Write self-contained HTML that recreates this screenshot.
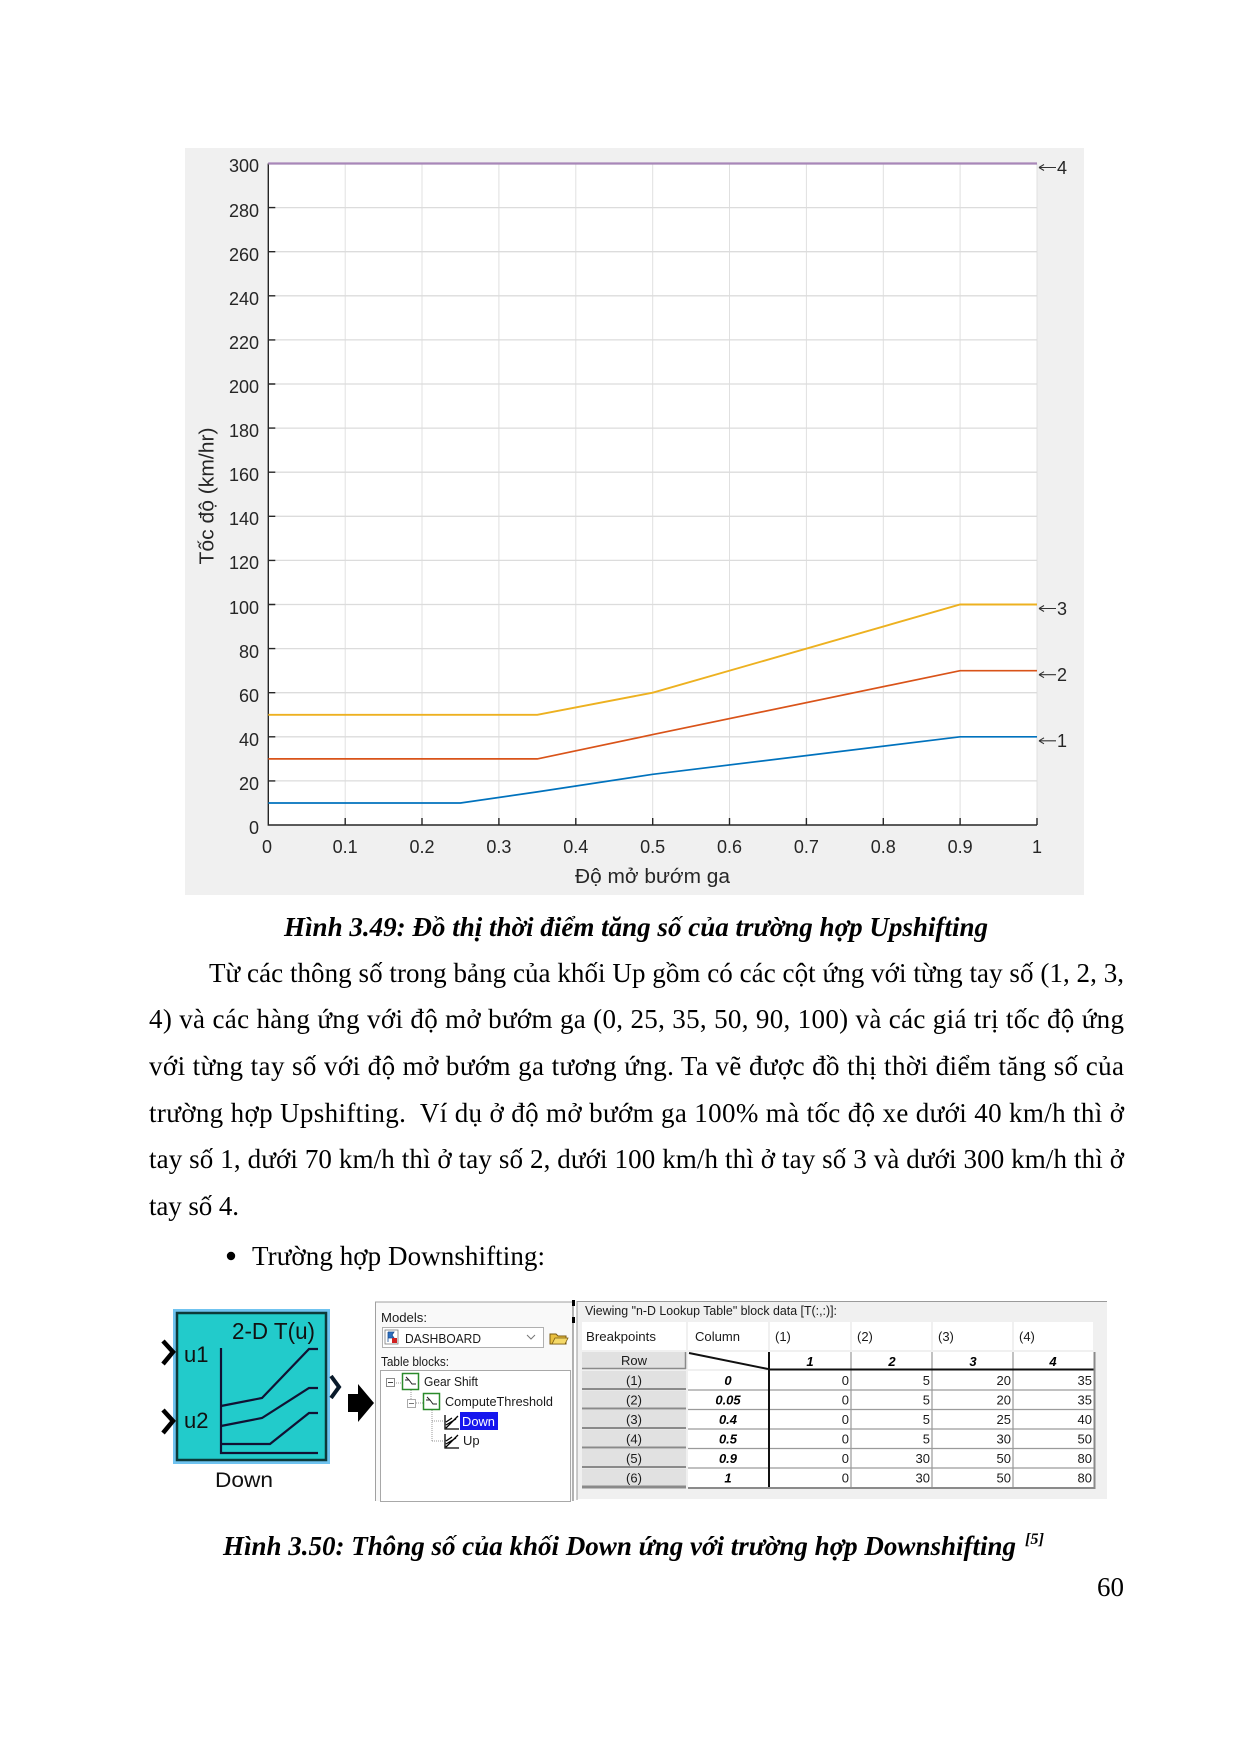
<!DOCTYPE html>
<html><head><meta charset="utf-8"><title>Hinh 3.49</title><style>
html,body{margin:0;padding:0;background:#fff;}
svg{display:block;}
.b{font-family:"Liberation Serif","DejaVu Serif",serif;font-size:27px;fill:#000;}
.cap{font-family:"Liberation Serif","DejaVu Serif",serif;font-size:27px;font-weight:bold;font-style:italic;fill:#000;}
.ax{font-family:"Liberation Sans","DejaVu Sans",sans-serif;font-size:18px;fill:#262626;}
.axl{font-family:"Liberation Sans","DejaVu Sans",sans-serif;font-size:20px;fill:#262626;}
.ui{font-family:"Liberation Sans","DejaVu Sans",sans-serif;font-size:13px;fill:#1a1a1a;}
.uib{font-family:"Liberation Sans","DejaVu Sans",sans-serif;font-size:13px;font-weight:bold;font-style:italic;fill:#000;}
.blk{font-family:"Liberation Sans","DejaVu Sans",sans-serif;fill:#111;}
</style></head><body>
<svg width="1240" height="1754" viewBox="0 0 1240 1754" xmlns="http://www.w3.org/2000/svg">
<rect width="1240" height="1754" fill="#fff"/>

<!-- ================= CHART ================= -->
<rect x="185" y="148" width="899" height="747" fill="#f0f0f0"/>
<rect x="268.3" y="163.5" width="768.7" height="661.5" fill="#fff"/>
<g stroke="#e0e0e0" stroke-width="1">
<line x1="345.2" y1="163.5" x2="345.2" y2="825"/>
<line x1="422.0" y1="163.5" x2="422.0" y2="825"/>
<line x1="498.9" y1="163.5" x2="498.9" y2="825"/>
<line x1="575.8" y1="163.5" x2="575.8" y2="825"/>
<line x1="652.7" y1="163.5" x2="652.7" y2="825"/>
<line x1="729.5" y1="163.5" x2="729.5" y2="825"/>
<line x1="806.4" y1="163.5" x2="806.4" y2="825"/>
<line x1="883.3" y1="163.5" x2="883.3" y2="825"/>
<line x1="960.1" y1="163.5" x2="960.1" y2="825"/>
<line x1="1037" y1="163.5" x2="1037" y2="825"/>
</g>
<g stroke="#dcdcdc" stroke-width="1.3">
<line x1="268.3" y1="780.9" x2="1037" y2="780.9"/>
<line x1="268.3" y1="736.8" x2="1037" y2="736.8"/>
<line x1="268.3" y1="692.7" x2="1037" y2="692.7"/>
<line x1="268.3" y1="648.6" x2="1037" y2="648.6"/>
<line x1="268.3" y1="604.5" x2="1037" y2="604.5"/>
<line x1="268.3" y1="560.4" x2="1037" y2="560.4"/>
<line x1="268.3" y1="516.3" x2="1037" y2="516.3"/>
<line x1="268.3" y1="472.2" x2="1037" y2="472.2"/>
<line x1="268.3" y1="428.1" x2="1037" y2="428.1"/>
<line x1="268.3" y1="384" x2="1037" y2="384"/>
<line x1="268.3" y1="339.9" x2="1037" y2="339.9"/>
<line x1="268.3" y1="295.8" x2="1037" y2="295.8"/>
<line x1="268.3" y1="251.7" x2="1037" y2="251.7"/>
<line x1="268.3" y1="207.6" x2="1037" y2="207.6"/>
</g>
<!-- axes -->
<path d="M268.3 163.5 V825 H1037" stroke="#262626" stroke-width="1.4" fill="none"/>
<g stroke="#262626" stroke-width="1.4">
<path d="M268.3 780.9h7M268.3 736.8h7M268.3 692.7h7M268.3 648.6h7M268.3 604.5h7M268.3 560.4h7M268.3 516.3h7M268.3 472.2h7M268.3 428.1h7M268.3 384h7M268.3 339.9h7M268.3 295.8h7M268.3 251.7h7M268.3 207.6h7M268.3 163.5h7"/>
<path d="M345.2 825v-7M422 825v-7M498.9 825v-7M575.8 825v-7M652.7 825v-7M729.5 825v-7M806.4 825v-7M883.3 825v-7M960.1 825v-7M1037 825v-7"/>
</g>
<!-- series -->
<polyline points="268.3,163.5 1037,163.5" fill="none" stroke="#a887b8" stroke-width="2.2"/>
<polyline points="268.3,714.8 537.3,714.8 652.7,692.7 960.1,604.5 1037,604.5" fill="none" stroke="#EDB120" stroke-width="1.9"/>
<polyline points="268.3,758.9 537.3,758.9 652.7,734.6 960.1,670.7 1037,670.7" fill="none" stroke="#D95319" stroke-width="1.7"/>
<polyline points="268.3,803 460.5,803 537.3,791.9 652.7,774.3 960.1,736.8 1037,736.8" fill="none" stroke="#0072BD" stroke-width="1.7"/>
<!-- y tick labels -->
<g class="ax" text-anchor="end">
<text x="259" y="834">0</text>
<text x="259" y="790">20</text>
<text x="259" y="746">40</text>
<text x="259" y="702">60</text>
<text x="259" y="658">80</text>
<text x="259" y="614">100</text>
<text x="259" y="569">120</text>
<text x="259" y="525">140</text>
<text x="259" y="481">160</text>
<text x="259" y="437">180</text>
<text x="259" y="393">200</text>
<text x="259" y="349">220</text>
<text x="259" y="305">240</text>
<text x="259" y="261">260</text>
<text x="259" y="217">280</text>
<text x="259" y="172">300</text>
</g>
<!-- x tick labels -->
<g class="ax" text-anchor="middle">
<text x="267" y="853">0</text>
<text x="345.2" y="853">0.1</text>
<text x="422" y="853">0.2</text>
<text x="498.9" y="853">0.3</text>
<text x="575.8" y="853">0.4</text>
<text x="652.7" y="853">0.5</text>
<text x="729.5" y="853">0.6</text>
<text x="806.4" y="853">0.7</text>
<text x="883.3" y="853">0.8</text>
<text x="960.1" y="853">0.9</text>
<text x="1037" y="853">1</text>
</g>
<text class="axl" x="652.5" y="883" text-anchor="middle" textLength="155" lengthAdjust="spacingAndGlyphs">Độ mở bướm ga</text>
<text class="axl" x="0" y="0" text-anchor="middle" transform="translate(213.5,496) rotate(-90)" textLength="137" lengthAdjust="spacingAndGlyphs">Tốc độ (km/hr)</text>
<!-- arrow labels -->
<g stroke="#333" stroke-width="1.1" fill="none">
<path d="M1039 167.5H1056M1039 167.5l5 -3M1039 167.5l5 3"/>
<path d="M1039 608.5H1056M1039 608.5l5 -3M1039 608.5l5 3"/>
<path d="M1039 674.7H1056M1039 674.7l5 -3M1039 674.7l5 3"/>
<path d="M1039 740.8H1056M1039 740.8l5 -3M1039 740.8l5 3"/>
</g>
<g class="ax" fill="#222">
<text x="1057" y="174">4</text>
<text x="1057" y="615">3</text>
<text x="1057" y="681">2</text>
<text x="1057" y="747">1</text>
</g>

<!-- ================= CAPTION 3.49 ================= -->
<text class="cap" x="636" y="936" text-anchor="middle" textLength="704" lengthAdjust="spacingAndGlyphs">Hình 3.49: Đồ thị thời điểm tăng số của trường hợp Upshifting</text>

<!-- ================= BODY ================= -->
<text class="b" x="209" y="982" textLength="915" lengthAdjust="spacing">Từ các thông số trong bảng của khối Up gồm có các cột ứng với từng tay số (1, 2, 3,</text>
<text class="b" x="149" y="1028" textLength="975" lengthAdjust="spacing">4) và các hàng ứng với độ mở bướm ga (0, 25, 35, 50, 90, 100) và các giá trị tốc độ ứng</text>
<text class="b" x="149" y="1075" textLength="975" lengthAdjust="spacing">với từng tay số với độ mở bướm ga tương ứng. Ta vẽ được đồ thị thời điểm tăng số của</text>
<text class="b" x="149" y="1122" textLength="975" lengthAdjust="spacing" style="white-space:pre">trường hợp Upshifting.  Ví dụ ở độ mở bướm ga 100% mà tốc độ xe dưới 40 km/h thì ở</text>
<text class="b" x="149" y="1168" textLength="975" lengthAdjust="spacing">tay số 1, dưới 70 km/h thì ở tay số 2, dưới 100 km/h thì ở tay số 3 và dưới 300 km/h thì ở</text>
<text class="b" x="149" y="1215" textLength="90" lengthAdjust="spacing">tay số 4.</text>
<circle cx="231" cy="1256" r="4.2" fill="#000"/>
<text class="b" x="252" y="1265" textLength="293" lengthAdjust="spacing">Trường hợp Downshifting:</text>

<!-- ================= SIMULINK BLOCK ================= -->
<rect x="173" y="1309" width="157" height="155" fill="#6fc3f0"/>
<rect x="177" y="1313" width="149" height="147" fill="#22cbcb" stroke="#0d3a3a" stroke-width="2.5"/>
<text class="blk" x="232" y="1339" font-size="23" textLength="83" lengthAdjust="spacingAndGlyphs">2-D T(u)</text>
<text class="blk" x="184" y="1362" font-size="22">u1</text>
<text class="blk" x="184" y="1428" font-size="22">u2</text>
<g stroke="#113" stroke-width="2.2" fill="none">
<path d="M221 1348 V1453 H318"/>
<polyline points="221,1406 262,1398 309,1349 318,1349"/>
<polyline points="221,1426 262,1418 309,1388 318,1388"/>
<polyline points="221,1444 270,1444 309,1413 318,1413"/>
</g>
<g fill="none" stroke="#000" stroke-width="4.5" stroke-linejoin="miter">
<polyline points="163,1341 173,1352 163,1364"/>
<polyline points="163,1410 173,1421 163,1433"/>
</g>
<polyline points="331,1376 339,1387 331,1398" fill="none" stroke="#0a1a2a" stroke-width="4"/>
<text class="blk" x="215" y="1487" font-size="21" textLength="58" lengthAdjust="spacingAndGlyphs">Down</text>
<!-- big arrow -->
<polygon points="348,1394 358,1394 358,1384 374,1403 358,1422 358,1412 348,1412" fill="#000"/>

<!-- ================= MODELS PANEL ================= -->
<rect x="375" y="1302" width="198" height="199" fill="#f9f9f9"/>
<line x1="375" y1="1302" x2="573" y2="1302" stroke="#a0a0a0"/>
<line x1="375.5" y1="1302" x2="375.5" y2="1501" stroke="#a0a0a0"/>
<text class="ui" x="381" y="1322" textLength="46" lengthAdjust="spacingAndGlyphs">Models:</text>
<rect x="382.5" y="1327.5" width="161" height="20" fill="#fff" stroke="#b0b0b0"/>
<rect x="385" y="1330" width="13" height="14" fill="#fff" stroke="#7a7a7a" stroke-width="0.8"/>
<path d="M388 1332 v10 M388 1332 h6 l-2 3 l2 3 h-6" fill="#2d6fc0" stroke="#1d4f90" stroke-width="0.8"/>
<rect x="392" y="1338" width="5" height="5" fill="#d02020"/>
<text class="ui" x="405" y="1343" font-size="14" textLength="76" lengthAdjust="spacingAndGlyphs">DASHBOARD</text>
<polyline points="527,1335 531,1339 535,1335" fill="none" stroke="#777" stroke-width="1"/>
<path d="M550 1334 h6 l2 2 h8 v8 h-16 z" fill="#e9c040" stroke="#7a5a10" stroke-width="1"/>
<path d="M552 1344 l3 -6 h13 l-3 6 z" fill="#f5d968" stroke="#7a5a10" stroke-width="0.8"/>
<text class="ui" x="381" y="1366" textLength="68" lengthAdjust="spacingAndGlyphs">Table blocks:</text>
<rect x="380.5" y="1370.5" width="190" height="131" fill="#fff" stroke="#a8a8a8"/>
<!-- tree -->
<g stroke="#999" stroke-width="1" stroke-dasharray="1,1" fill="none">
<path d="M394 1383 H402"/>
<path d="M411 1390 V1399"/>
<path d="M416 1403 H423"/>
<path d="M432 1410 V1441"/>
<path d="M432 1421 H444"/>
<path d="M432 1441 H444"/>
</g>
<rect x="386.5" y="1378.5" width="8" height="8" fill="#fff" stroke="#888"/>
<path d="M388 1382.5 h5" stroke="#444"/>
<rect x="402.5" y="1373.5" width="16" height="16" fill="#fff" stroke="#2b8a2b" stroke-width="1.5"/>
<path d="M405 1380 h4 l3 4 h4 M406 1377 l3 3" stroke="#222" fill="none"/>
<text class="ui" x="424" y="1386" font-size="14" textLength="54" lengthAdjust="spacingAndGlyphs">Gear Shift</text>
<rect x="407.5" y="1399.5" width="8" height="8" fill="#fff" stroke="#aaa"/>
<path d="M409 1403.5 h5" stroke="#777"/>
<rect x="423.5" y="1393.5" width="16" height="16" fill="#fff" stroke="#2b8a2b" stroke-width="1.5"/>
<path d="M426 1400 h4 l3 4 h4 M427 1397 l3 3" stroke="#222" fill="none"/>
<text class="ui" x="445" y="1406" font-size="14" textLength="108" lengthAdjust="spacingAndGlyphs">ComputeThreshold</text>
<g stroke="#000" stroke-width="1.3" fill="none">
<path d="M445 1415 V1429 H459 M446 1428 l12 -12 M446 1425 l10 -6 M446 1422 l6 -4"/>
<path d="M445 1434 V1448 H459 M446 1447 l12 -12 M446 1444 l10 -6 M446 1441 l6 -4"/>
</g>
<rect x="460" y="1412" width="38" height="18" fill="#1616ee"/>
<text class="ui" x="462" y="1426" font-size="14" style="fill:#fff" textLength="33" lengthAdjust="spacingAndGlyphs">Down</text>
<text class="ui" x="463" y="1445" font-size="14">Up</text>
<line x1="573" y1="1300" x2="573" y2="1501" stroke="#808080" stroke-width="1.2"/>

<!-- ================= TABLE PANEL ================= -->
<rect x="577" y="1302" width="530" height="197" fill="#f0f0f0"/>
<line x1="577" y1="1301.5" x2="1107" y2="1301.5" stroke="#9a9a9a"/>
<line x1="577" y1="1301" x2="577" y2="1500" stroke="#9a9a9a"/>
<rect x="572" y="1300" width="3" height="6" fill="#000"/>
<rect x="572" y="1317" width="3" height="6" fill="#000"/>
<text class="ui" x="585" y="1315" textLength="252" lengthAdjust="spacingAndGlyphs">Viewing "n-D Lookup Table" block data [T(:,:)]:</text>
<!-- header row -->
<g fill="#fff">
<rect x="582" y="1322" width="104" height="28"/>
<rect x="688" y="1322" width="80" height="28"/>
<rect x="770" y="1322" width="80" height="28"/>
<rect x="852" y="1322" width="79" height="28"/>
<rect x="933" y="1322" width="79" height="28"/>
<rect x="1014" y="1322" width="79" height="28"/>
</g>
<g class="ui">
<text x="586" y="1341" textLength="70" lengthAdjust="spacingAndGlyphs">Breakpoints</text>
<text x="695" y="1341" textLength="45" lengthAdjust="spacingAndGlyphs">Column</text>
<text x="775" y="1341">(1)</text>
<text x="857" y="1341">(2)</text>
<text x="938" y="1341">(3)</text>
<text x="1019" y="1341">(4)</text>
</g>
<!-- Row button -->
<rect x="582" y="1352" width="104" height="17" fill="#e1e1e1"/>
<path d="M582 1368.5 H686 M685.5 1352 V1369" stroke="#8a8a8a" stroke-width="1.5"/>
<text class="ui" x="634" y="1365" text-anchor="middle">Row</text>
<!-- corner + column numbers -->
<rect x="688" y="1352" width="80" height="17" fill="#fff"/>
<line x1="689" y1="1353" x2="768" y2="1369" stroke="#111" stroke-width="2"/>
<rect x="770" y="1352" width="324" height="136" fill="#fff"/>
<g stroke="#9a9a9a" stroke-width="1.2">
<line x1="851" y1="1352" x2="851" y2="1488"/>
<line x1="932" y1="1352" x2="932" y2="1488"/>
<line x1="1013" y1="1352" x2="1013" y2="1488"/>
</g>
<g class="uib" text-anchor="middle">
<text x="810" y="1366">1</text>
<text x="892" y="1366">2</text>
<text x="973" y="1366">3</text>
<text x="1053" y="1366">4</text>
</g>
<!-- rows -->
<g fill="#e1e1e1">
<rect x="582" y="1371" width="104" height="18"/>
<rect x="582" y="1390.5" width="104" height="18"/>
<rect x="582" y="1410" width="104" height="18"/>
<rect x="582" y="1429.5" width="104" height="18"/>
<rect x="582" y="1449" width="104" height="18"/>
<rect x="582" y="1468.5" width="104" height="18"/>
</g>
<g stroke="#8a8a8a" stroke-width="2">
<path d="M582 1389 H686 M582 1408.5 H686 M582 1428 H686 M582 1447.5 H686 M582 1467 H686 M582 1486.5 H686"/>
</g>
<rect x="688" y="1371" width="80" height="117" fill="#fff"/>
<g stroke="#9a9a9a" stroke-width="1.2">
<path d="M688 1390 H1094 M688 1409.5 H1094 M688 1429 H1094 M688 1448.5 H1094 M688 1468 H1094"/>
</g>
<path d="M768 1369.5 H1095" stroke="#111" stroke-width="2"/>
<path d="M769 1352 V1488" stroke="#111" stroke-width="2"/>
<path d="M1094.5 1352 V1489 M688 1488 H1095" stroke="#8a8a8a" stroke-width="2"/>
<path d="M582 1488 H686" stroke="#8a8a8a" stroke-width="1"/>
<g class="ui" text-anchor="middle">
<text x="634" y="1385">(1)</text>
<text x="634" y="1404.5">(2)</text>
<text x="634" y="1424">(3)</text>
<text x="634" y="1443.5">(4)</text>
<text x="634" y="1463">(5)</text>
<text x="634" y="1482.5">(6)</text>
</g>
<g class="uib" text-anchor="middle">
<text x="728" y="1385">0</text>
<text x="728" y="1404.5">0.05</text>
<text x="728" y="1424">0.4</text>
<text x="728" y="1443.5">0.5</text>
<text x="728" y="1463">0.9</text>
<text x="728" y="1482.5">1</text>
</g>
<g class="ui" text-anchor="end">
<text x="849" y="1385">0</text><text x="930" y="1385">5</text><text x="1011" y="1385">20</text><text x="1092" y="1385">35</text>
<text x="849" y="1404.5">0</text><text x="930" y="1404.5">5</text><text x="1011" y="1404.5">20</text><text x="1092" y="1404.5">35</text>
<text x="849" y="1424">0</text><text x="930" y="1424">5</text><text x="1011" y="1424">25</text><text x="1092" y="1424">40</text>
<text x="849" y="1443.5">0</text><text x="930" y="1443.5">5</text><text x="1011" y="1443.5">30</text><text x="1092" y="1443.5">50</text>
<text x="849" y="1463">0</text><text x="930" y="1463">30</text><text x="1011" y="1463">50</text><text x="1092" y="1463">80</text>
<text x="849" y="1482.5">0</text><text x="930" y="1482.5">30</text><text x="1011" y="1482.5">50</text><text x="1092" y="1482.5">80</text>
</g>

<!-- ================= CAPTION 3.50 ================= -->
<text class="cap" x="223" y="1555" textLength="793" lengthAdjust="spacingAndGlyphs">Hình 3.50: Thông số của khối Down ứng với trường hợp Downshifting</text>
<text class="cap" x="1025" y="1544" style="font-size:16px" textLength="19" lengthAdjust="spacingAndGlyphs">[5]</text>

<!-- page number -->
<text class="b" x="1124" y="1596" text-anchor="end">60</text>
</svg>
</body></html>
